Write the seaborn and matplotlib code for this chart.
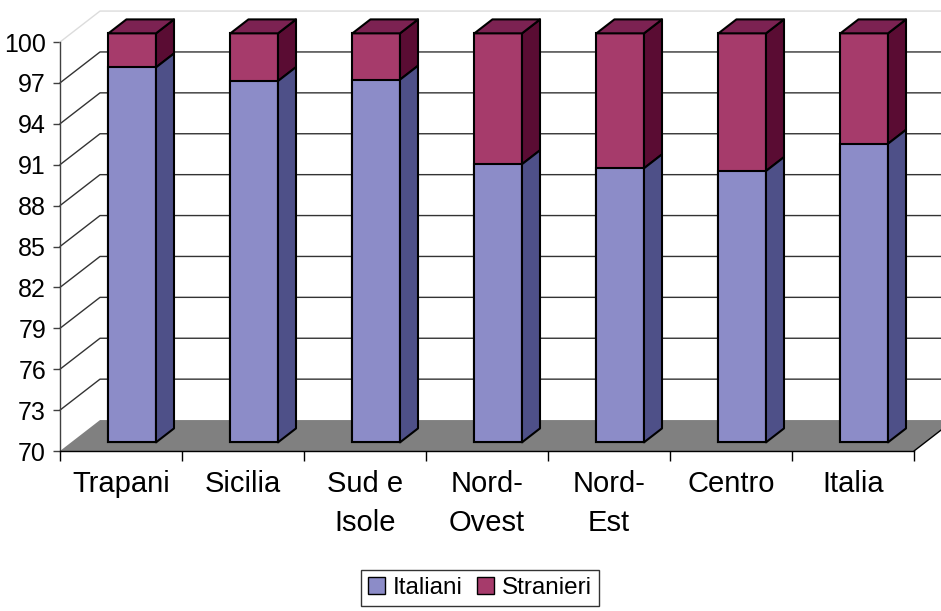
import numpy as np
import pandas as pd
import matplotlib
matplotlib.use("Agg")
import matplotlib.pyplot as plt
import seaborn as sns
from matplotlib.patches import Polygon, Patch

# Dati (percentuali)
categorie = ["Trapani", "Sicilia", "Sud e\nIsole", "Nord-\nOvest", "Nord-\nEst", "Centro", "Italia"]
italiani = [97.5, 96.5, 96.6, 90.4, 90.1, 89.9, 91.9]
stranieri = [round(100 - v, 1) for v in italiani]
y_ticks = list(range(70, 101, 3))

# Colori
COL_IT, COL_IT_SIDE = "#8C8CC8", "#4E5088"
COL_ST, COL_ST_SIDE, COL_ST_TOP = "#A63B6B", "#5A0C33", "#7C2252"

# Effetto 3D (unita' dati)
DX, DY = 0.328, 2.27
D_FRONT, D_BACK = 0.28, 0.73
DD = D_BACK - D_FRONT
BAR_W = 0.39
Y0 = 70

sns.set_theme(style="white")
plt.rcParams['font.family'] = ['Liberation Sans', 'DejaVu Sans']

fig = plt.figure(figsize=(9.41, 6.11), dpi=100)
ax = fig.add_axes([60 / 941, 1 - 451 / 611, 854 / 941, 409 / 611])

df = pd.DataFrame({
    "cat": categorie,
    "Italiani": italiani,
    "Totale": [i + s for i, s in zip(italiani, stranieri)],
})

# pavimento
ax.add_patch(Polygon([(-0.5, Y0), (-0.5 + DX, Y0 + DY), (6.5 + DX, Y0 + DY), (6.5, Y0)],
                     closed=True, facecolor="#808080", edgecolor="none", zorder=1, clip_on=False))
ax.plot([6.5, 6.5 + DX], [Y0, Y0 + DY], color="black", lw=1, zorder=1.1, clip_on=False)

# griglia su parete di fondo e parete sinistra
for v in y_ticks[1:]:
    c = "#dcdcdc" if v == 100 else "#333333"
    ax.plot([-0.5, -0.5 + DX, 6.5 + DX], [v, v + DY, v + DY], color=c, lw=1,
            zorder=1.5, clip_on=False)

sns.barplot(data=df, x="cat", y="Totale", color=COL_ST, saturation=1, width=BAR_W,
            edgecolor="black", linewidth=1.5, ax=ax, zorder=3)
sns.barplot(data=df, x="cat", y="Italiani", color=COL_IT, saturation=1, width=BAR_W,
            edgecolor="black", linewidth=1.5, ax=ax, zorder=3.2)

for cont, vals in zip(ax.containers, [df["Totale"], df["Italiani"]]):
    for p, v in zip(cont, vals):
        p.set_x(p.get_x() + D_FRONT * DX)
        p.set_y(Y0 + D_FRONT * DY)
        p.set_height(v - Y0)
        p.set_clip_on(False)


def faccia(pts, col, z):
    ax.add_patch(Polygon(pts, closed=True, facecolor=col, edgecolor="black",
                         linewidth=1.5, joinstyle="round", zorder=z, clip_on=False))


for p_tot, p_it, v in zip(ax.containers[0], ax.containers[1], df["Italiani"]):
    x0 = p_tot.get_x()
    x1 = x0 + p_tot.get_width()
    off = D_FRONT * DY
    lo, mid, hi = Y0 + off, v + off, 100 + off
    ex, ey = DD * DX, DD * DY
    faccia([(x1, lo), (x1 + ex, lo + ey), (x1 + ex, mid + ey), (x1, mid)], COL_IT_SIDE, 3.3)
    faccia([(x1, mid), (x1 + ex, mid + ey), (x1 + ex, hi + ey), (x1, hi)], COL_ST_SIDE, 3.1)
    faccia([(x0, hi), (x0 + ex, hi + ey), (x1 + ex, hi + ey), (x1, hi)], COL_ST_TOP, 3.1)

ax.set_xlim(-0.5, 6.5)
ax.set_ylim(70, 100)
ax.set_yticks(y_ticks)
ax.set_xlabel("")
ax.set_ylabel("")
ax.set_xticks(np.arange(-0.5, 7, 1), minor=True)

for s in ["top", "right"]:
    ax.spines[s].set_visible(False)
ax.spines["left"].set_color("#404040")
ax.spines["left"].set_linewidth(1)
ax.spines["bottom"].set_color("black")
ax.spines["bottom"].set_linewidth(1)

ax.tick_params(axis="y", left=True, length=5, width=1, color="#404040", pad=5,
               labelsize=18, labelcolor="black")
ax.tick_params(axis="x", which="major", bottom=True, length=0, pad=14,
               labelsize=21, labelcolor="black")
ax.tick_params(axis="x", which="minor", bottom=True, length=7, width=1, color="black")
for lbl in ax.get_xticklabels():
    lbl.set_linespacing(1.5)

leg = fig.legend(handles=[Patch(facecolor=COL_IT, edgecolor="black", label="Italiani"),
                          Patch(facecolor=COL_ST, edgecolor="black", label="Stranieri")],
                 loc="center", bbox_to_anchor=(480 / 941, 1 - 588 / 611), ncol=2,
                 frameon=True, fancybox=False, edgecolor="black", fontsize=17.5,
                 labelcolor="black", handlelength=0.7, handleheight=0.7,
                 handletextpad=0.3, columnspacing=0.6, borderpad=0.3)
leg.get_frame().set_linewidth(1)

fig.savefig("out.png", dpi=100)
